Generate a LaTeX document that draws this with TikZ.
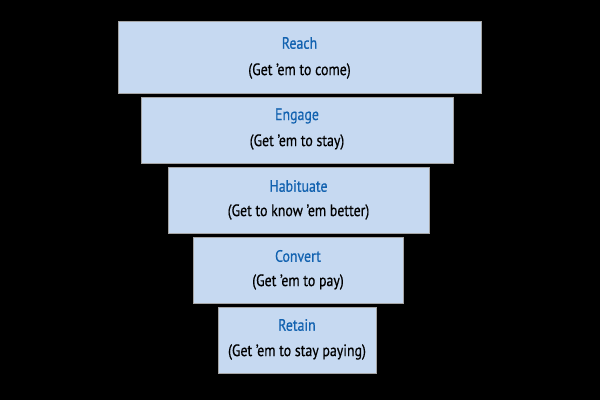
\documentclass[tikz,border=0pt]{standalone}
\usepackage{fontspec}
\setmainfont[FakeStretch=0.84, FakeBold=0.6]{PT Sans}
\definecolor{stageblue}{RGB}{198,217,241}
\definecolor{stagetitle}{RGB}{18,98,176}
\definecolor{stageedge}{RGB}{165,165,165}
\tikzset{
	stagebox/.style={draw=stageedge, fill=stageblue, line width=0.9pt, inner sep=0pt},
	stagename/.style={text=stagetitle, font=\fontsize{16.5}{19}\selectfont},
	stagenote/.style={text=black, font=\fontsize{16.5}{19}\selectfont}
}

\begin{document}
\begin{tikzpicture}[x=1pt, y=-1pt]
		%%%%% START %%%%%
		
		\fill[black] (0, 0) rectangle (600, 400);
		\useasboundingbox (0, 0) rectangle (600, 400);
		
		\node[stagebox, minimum width=363pt, minimum height=72pt] (reach) at (299.5, 57) {};
		\node[stagename] (reachname) at (299.5, 43) {Reach};
		\node[stagenote] (reachnote) at (299.5, 71) {(Get ’em to come)};
		
		\node[stagebox, minimum width=312pt, minimum height=66pt] (engage) at (297, 130) {};
		\node[stagename] (engagename) at (297, 116) {Engage};
		\node[stagenote] (engagenote) at (297, 142) {(Get ’em to stay)};
		
		\node[stagebox, minimum width=261pt, minimum height=66pt] (habit) at (298.5, 200) {};
		\node[stagename] (habitname) at (298.5, 186) {Habituate};
		\node[stagenote] (habitnote) at (298.5, 212) {(Get to know ’em better)};
		
		\node[stagebox, minimum width=210pt, minimum height=66pt] (convert) at (298, 270) {};
		\node[stagename] (convertname) at (298, 256) {Convert};
		\node[stagenote] (convertnote) at (298, 282) {(Get ’em to pay)};
		
		\node[stagebox, minimum width=158pt, minimum height=66pt] (retain) at (297, 340) {};
		\node[stagename] (retainname) at (297, 325) {Retain};
		\node[stagenote] (retainnote) at (297, 352) {(Get ’em to stay paying)};
		
		%%%%% END %%%%%
	\end{tikzpicture}
\end{document}
